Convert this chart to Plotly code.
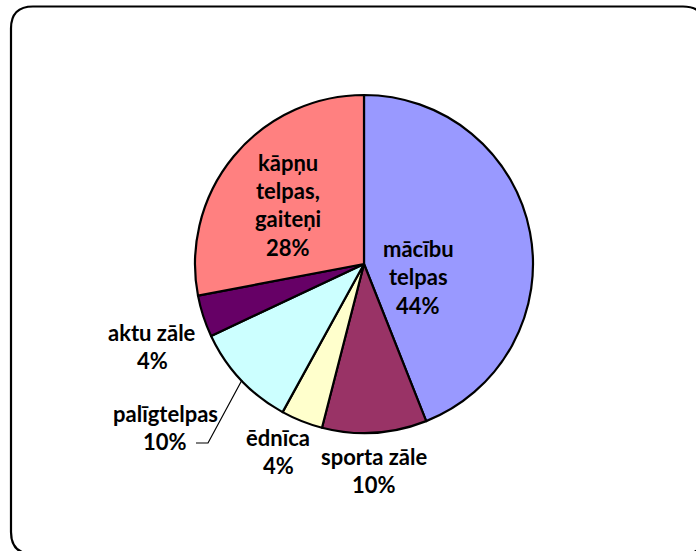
import plotly.graph_objects as go

W, H = 696, 551

# ---- data ----
categories = ["mācību telpas", "sporta zāle", "ēdnīca", "palīgtelpas", "aktu zāle", "kāpņu telpas, gaiteņi"]
values = [44, 10, 4, 10, 4, 28]
colors = ["#9999FF", "#993366", "#FFFFCC", "#CCFFFF", "#660066", "#FF8080"]
label_lines = [
    ["mācību", "telpas"],
    ["sporta zāle"],
    ["ēdnīca"],
    ["palīgtelpas"],
    ["aktu zāle"],
    ["kāpņu", "telpas,", "gaiteņi"],
]

# ---- layout helpers (pixel -> paper) ----
def px(x):
    return x / W

def py(y):
    return 1 - y / H

cx, cy, r = 364, 264, 169

fig = go.Figure(go.Pie(
    labels=categories,
    values=values,
    sort=False,
    direction="clockwise",
    rotation=0,
    marker=dict(colors=colors, line=dict(color="black", width=2.2)),
    textinfo="none",
    hoverinfo="label+percent",
    showlegend=False,
    domain=dict(x=[px(cx - r), px(cx + r)], y=[py(cy + r), py(cy - r)]),
))

# label anchor positions (centre x, first-line y) in pixels
label_pos = [
    (418, 248),
    (374, 456),
    (278, 437),
    (165, 413),
    (152, 332),
    (288, 162),
]
line_gap = 28.5
total = sum(values)
FONT = dict(family="Lato, 'Open Sans', sans-serif", size=22, color="black")

annotations = []
for lines, v, (lx, ly) in zip(label_lines, values, label_pos):
    pct = f"{round(100 * v / total)}%"
    all_lines = lines + [pct]
    for i, t in enumerate(all_lines):
        annotations.append(dict(
            x=px(lx), y=py(ly + i * line_gap), xref="paper", yref="paper",
            text=f"<b>{t}</b>", showarrow=False, xanchor="center", yanchor="middle",
            font=FONT,
        ))

shapes = [
    # rounded outer border (extends beyond right/bottom edges)
    dict(type="path", xref="paper", yref="paper",
         path=(f"M {px(11)} {py(28.5)} Q {px(11)} {py(6.5)} {px(33)} {py(6.5)} "
               f"L {px(683)} {py(6.5)} Q {px(705)} {py(6.5)} {px(705)} {py(28.5)} "
               f"L {px(705)} {py(532)} Q {px(705)} {py(554)} {px(683)} {py(554)} "
               f"L {px(33)} {py(554)} Q {px(11)} {py(554)} {px(11)} {py(532)} Z"),
         line=dict(color="black", width=2.2), fillcolor="rgba(0,0,0,0)"),
    # leader line for palīgtelpas
    dict(type="path", xref="paper", yref="paper",
         path=f"M {px(242)} {py(380)} L {px(208)} {py(443)} L {px(196)} {py(443)}",
         line=dict(color="black", width=1.2)),
]

fig.update_layout(
    width=W, height=H,
    margin=dict(l=0, r=0, t=0, b=0),
    paper_bgcolor="white", plot_bgcolor="white",
    annotations=annotations,
    shapes=shapes,
)

fig.write_html("out.html", config={"displayModeBar": False},
               post_script="document.body.style.margin='0px';")
